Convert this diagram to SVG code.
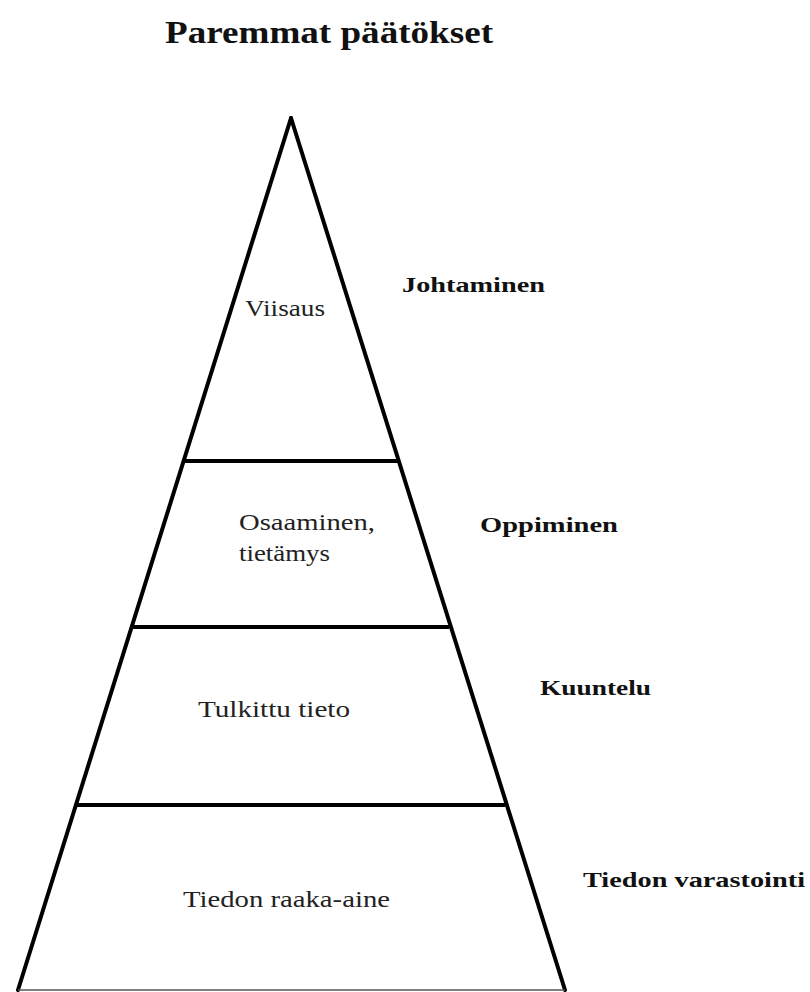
<svg xmlns="http://www.w3.org/2000/svg" width="810" height="992" viewBox="0 0 810 992">
<style>
.side{stroke:#000;stroke-width:4;fill:none;stroke-linecap:round}
.div{stroke:#000;stroke-width:4;fill:none}
.base{stroke:#555;stroke-width:1.5;fill:none}
.lbl{font-family:"Liberation Serif","Times New Roman",serif;font-size:24px;fill:#222}
.bold{font-family:"Liberation Serif","Times New Roman",serif;font-size:22px;font-weight:bold;fill:#111}
.title{font-family:"Liberation Serif","Times New Roman",serif;font-size:31px;font-weight:bold;fill:#111}
</style>
<rect width="810" height="992" fill="#fff"/>
<g id="title"><text class="title" x="165" y="43" textLength="328" lengthAdjust="spacingAndGlyphs">Paremmat päätökset</text></g>
<g id="connectors">
<line class="side" x1="291" y1="118" x2="18" y2="990"/>
<line class="side" x1="291" y1="118" x2="565" y2="990"/>
<line class="base" x1="18" y1="990" x2="565" y2="990"/>
<line class="div" x1="184" y1="461" x2="398" y2="461"/>
<line class="div" x1="132" y1="627" x2="449" y2="627"/>
<line class="div" x1="75" y1="805" x2="505" y2="805"/>
</g>
<g id="viisaus"><text class="lbl" x="245" y="316" textLength="80" lengthAdjust="spacingAndGlyphs">Viisaus</text></g>
<g id="osaaminen"><text class="lbl" x="239" y="530" textLength="136" lengthAdjust="spacingAndGlyphs">Osaaminen,</text><text class="lbl" x="239" y="561" textLength="91" lengthAdjust="spacingAndGlyphs">tietämys</text></g>
<g id="tulkittu"><text class="lbl" x="198" y="717" textLength="152" lengthAdjust="spacingAndGlyphs">Tulkittu tieto</text></g>
<g id="raaka"><text class="lbl" x="183" y="907" textLength="207" lengthAdjust="spacingAndGlyphs">Tiedon raaka-aine</text></g>
<g id="johtaminen"><text class="bold" x="402" y="292" textLength="143" lengthAdjust="spacingAndGlyphs">Johtaminen</text></g>
<g id="oppiminen"><text class="bold" x="480" y="532" textLength="138" lengthAdjust="spacingAndGlyphs">Oppiminen</text></g>
<g id="kuuntelu"><text class="bold" x="540" y="695" textLength="111" lengthAdjust="spacingAndGlyphs">Kuuntelu</text></g>
<g id="varastointi"><text class="bold" x="583" y="887" textLength="222" lengthAdjust="spacingAndGlyphs">Tiedon varastointi</text></g>
</svg>
